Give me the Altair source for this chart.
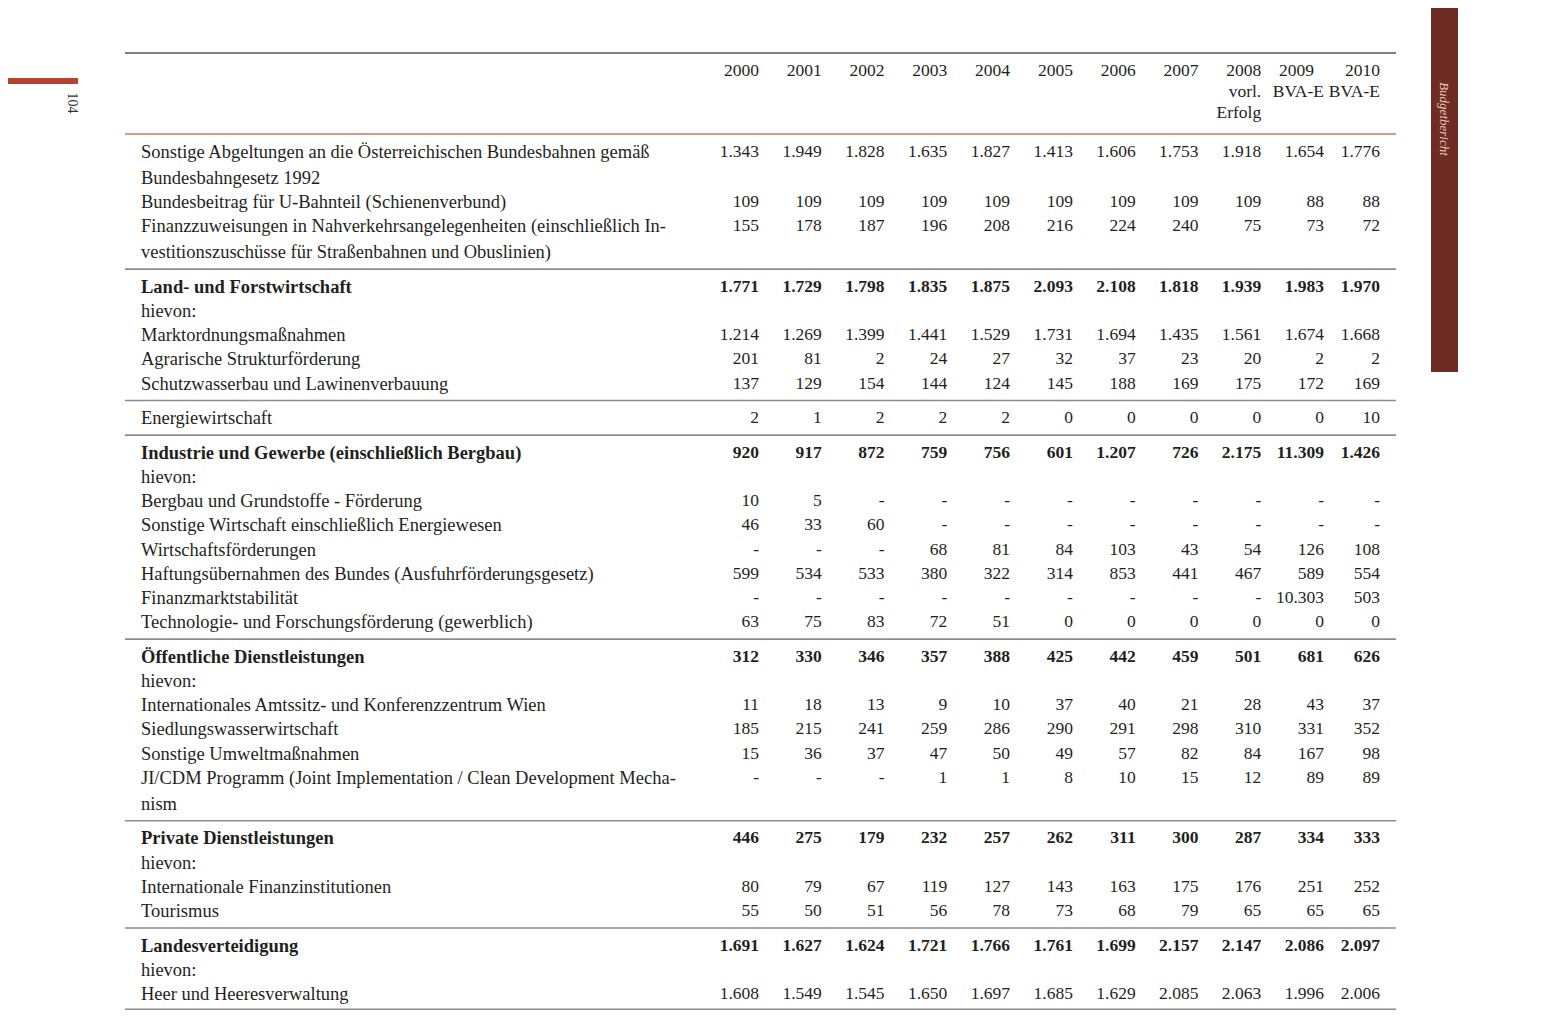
import altair as alt
import pandas as pd

# ---------------- data ----------------
years = ["2000", "2001", "2002", "2003", "2004", "2005", "2006", "2007", "2008", "2009", "2010"]
header_extra = {"2008": ["vorl.", "Erfolg"], "2009": ["BVA-E"], "2010": ["BVA-E"]}
centered_header = ["2009"]  # printed centred over "BVA-E" in the source

N = None
# each block: list of (label lines, values or None, bold)
block_bahn = [
    (["Sonstige Abgeltungen an die Österreichischen Bundesbahnen gemäß", "Bundesbahngesetz 1992"],
     [1343, 1949, 1828, 1635, 1827, 1413, 1606, 1753, 1918, 1654, 1776], False),
    (["Bundesbeitrag für U-Bahnteil (Schienenverbund)"],
     [109, 109, 109, 109, 109, 109, 109, 109, 109, 88, 88], False),
    (["Finanzzuweisungen in Nahverkehrsangelegenheiten (einschließlich In-",
      "vestitionszuschüsse für Straßenbahnen und Obuslinien)"],
     [155, 178, 187, 196, 208, 216, 224, 240, 75, 73, 72], False),
]
block_land = [
    (["Land- und Forstwirtschaft"], [1771, 1729, 1798, 1835, 1875, 2093, 2108, 1818, 1939, 1983, 1970], True),
    (["hievon:"], None, False),
    (["Marktordnungsmaßnahmen"], [1214, 1269, 1399, 1441, 1529, 1731, 1694, 1435, 1561, 1674, 1668], False),
    (["Agrarische Strukturförderung"], [201, 81, 2, 24, 27, 32, 37, 23, 20, 2, 2], False),
    (["Schutzwasserbau und Lawinenverbauung"], [137, 129, 154, 144, 124, 145, 188, 169, 175, 172, 169], False),
]
block_energie = [
    (["Energiewirtschaft"], [2, 1, 2, 2, 2, 0, 0, 0, 0, 0, 10], False),
]
block_industrie = [
    (["Industrie und Gewerbe (einschließlich Bergbau)"], [920, 917, 872, 759, 756, 601, 1207, 726, 2175, 11309, 1426], True),
    (["hievon:"], None, False),
    (["Bergbau und Grundstoffe - Förderung"], [10, 5, N, N, N, N, N, N, N, N, N], False),
    (["Sonstige Wirtschaft einschließlich Energiewesen"], [46, 33, 60, N, N, N, N, N, N, N, N], False),
    (["Wirtschaftsförderungen"], [N, N, N, 68, 81, 84, 103, 43, 54, 126, 108], False),
    (["Haftungsübernahmen des Bundes (Ausfuhrförderungsgesetz)"], [599, 534, 533, 380, 322, 314, 853, 441, 467, 589, 554], False),
    (["Finanzmarktstabilität"], [N, N, N, N, N, N, N, N, N, 10303, 503], False),
    (["Technologie- und Forschungsförderung (gewerblich)"], [63, 75, 83, 72, 51, 0, 0, 0, 0, 0, 0], False),
]
block_oeff = [
    (["Öffentliche Dienstleistungen"], [312, 330, 346, 357, 388, 425, 442, 459, 501, 681, 626], True),
    (["hievon:"], None, False),
    (["Internationales Amtssitz- und  Konferenzzentrum Wien"], [11, 18, 13, 9, 10, 37, 40, 21, 28, 43, 37], False),
    (["Siedlungswasserwirtschaft"], [185, 215, 241, 259, 286, 290, 291, 298, 310, 331, 352], False),
    (["Sonstige Umweltmaßnahmen"], [15, 36, 37, 47, 50, 49, 57, 82, 84, 167, 98], False),
    (["JI/CDM Programm (Joint Implementation / Clean Development Mecha-", "nism"],
     [N, N, N, 1, 1, 8, 10, 15, 12, 89, 89], False),
]
block_privat = [
    (["Private Dienstleistungen"], [446, 275, 179, 232, 257, 262, 311, 300, 287, 334, 333], True),
    (["hievon:"], None, False),
    (["Internationale Finanzinstitutionen"], [80, 79, 67, 119, 127, 143, 163, 175, 176, 251, 252], False),
    (["Tourismus"], [55, 50, 51, 56, 78, 73, 68, 79, 65, 65, 65], False),
]
block_landesv = [
    (["Landesverteidigung"], [1691, 1627, 1624, 1721, 1766, 1761, 1699, 2157, 2147, 2086, 2097], True),
    (["hievon:"], None, False),
    (["Heer und Heeresverwaltung"], [1608, 1549, 1545, 1650, 1697, 1685, 1629, 2085, 2063, 1996, 2006], False),
]
blocks = [block_bahn, block_land, block_energie, block_industrie, block_oeff, block_privat, block_landesv]


def fmt(v):
    if v is None:
        return "-"
    return f"{v:,}".replace(",", ".")


# ---------------- layout (in line units) ----------------
HEAD_FIRST = 0.75
HEAD_STEP = 0.87
HEAD_RULE = 3.35
FIRST_ROW = 4.08
STEP = 1.0
CONT = 1.075
GAP = 1.43
SEP = 0.70
SEP_LAST = 0.63

label_rows, value_rows, rule_rows = [], [], []
rule_rows.append({"u": 0.0, "kind": "top"})
rule_rows.append({"u": HEAD_RULE, "kind": "head"})

u = FIRST_ROW
for bi, block in enumerate(blocks):
    if bi > 0:
        u += GAP
    for ri, (lines, vals, bold) in enumerate(block):
        if ri > 0:
            u += STEP
        for li, line in enumerate(lines):
            if li > 0:
                u += CONT
            label_rows.append({"u": u, "text": line, "bold": bold})
            if li == 0 and vals is not None:
                for ci, v in enumerate(vals):
                    value_rows.append({"u": u, "col": ci, "text": fmt(v), "bold": bold})
    sep = SEP_LAST if bi == len(blocks) - 1 else SEP
    rule_rows.append({"u": u + sep, "kind": "row"})

header_rows = []
for ci, yr in enumerate(years):
    header_rows.append({"u": HEAD_FIRST, "col": ci, "text": yr, "shift": yr in centered_header})
    for k, extra in enumerate(header_extra.get(yr, [])):
        header_rows.append({"u": HEAD_FIRST + (k + 1) * HEAD_STEP, "col": ci, "text": extra, "shift": False})

labels_df = pd.DataFrame(label_rows)
values_df = pd.DataFrame(value_rows)
rules_df = pd.DataFrame(rule_rows)
header_df = pd.DataFrame(header_rows)

# ---------------- scales ----------------
W, H = 1528, 1002
xscale = alt.Scale(domain=[-1, 0, 9, 10], range=[133, 751, 1316, 1372], zero=False, nice=False)
yscale = alt.Scale(domain=[0, 40], range=[45, 45 + 40 * 24.2], zero=False, nice=False)

FONT = "Liberation Serif"
INK = "#1f1f1f"
LABEL_SIZE = 18.5
NUM_SIZE = 17.5


def X():
    return alt.X("col:Q", scale=xscale, axis=None)


def Y():
    return alt.Y("u:Q", scale=yscale, axis=None)


labels_normal = alt.Chart(labels_df).transform_filter("!datum.bold").transform_calculate(lx="-1").mark_text(
    align="left", baseline="middle", font=FONT, fontSize=LABEL_SIZE, color=INK
).encode(x=alt.X("lx:Q", scale=xscale, axis=None), y=Y(), text="text:N")

labels_bold = alt.Chart(labels_df).transform_filter("datum.bold").transform_calculate(lx="-1").mark_text(
    align="left", baseline="middle", font=FONT, fontSize=LABEL_SIZE, fontWeight="bold", color=INK
).encode(x=alt.X("lx:Q", scale=xscale, axis=None), y=Y(), text="text:N")

values_normal = alt.Chart(values_df).transform_filter("!datum.bold").mark_text(
    align="right", baseline="middle", font=FONT, fontSize=NUM_SIZE, color=INK
).encode(x=X(), y=Y(), text="text:N")

values_bold = alt.Chart(values_df).transform_filter("datum.bold").mark_text(
    align="right", baseline="middle", font=FONT, fontSize=NUM_SIZE, fontWeight="bold", color=INK
).encode(x=X(), y=Y(), text="text:N")

headers = alt.Chart(header_df).transform_filter("!datum.shift").mark_text(
    align="right", baseline="middle", font=FONT, fontSize=NUM_SIZE, color=INK
).encode(x=X(), y=Y(), text="text:N")

headers_shift = alt.Chart(header_df).transform_filter("datum.shift").mark_text(
    align="right", baseline="middle", font=FONT, fontSize=NUM_SIZE, color=INK, dx=-10
).encode(x=X(), y=Y(), text="text:N")

rules = alt.Chart(rules_df).mark_rule(strokeWidth=1.6).encode(
    x=alt.value(117), x2=alt.value(1388), y=Y(),
    color=alt.Color("kind:N", scale=alt.Scale(domain=["top", "head", "row"],
                                              range=["#555555", "#c77a66", "#8c8c8c"]), legend=None),
)

# page decorations (scanned book page)
red_bar = alt.Chart(pd.DataFrame({"a": [0]})).mark_rect(color="#b8412f").encode(
    x=alt.value(0), x2=alt.value(70), y=alt.value(70), y2=alt.value(76))
brown_bar = alt.Chart(pd.DataFrame({"a": [0]})).mark_rect(color="#6e2c24").encode(
    x=alt.value(1423), x2=alt.value(1450), y=alt.value(0), y2=alt.value(364))
side_text = alt.Chart(pd.DataFrame({"t": ["Budgetbericht"]})).mark_text(
    angle=90, align="center", baseline="middle", font=FONT, fontStyle="italic", fontSize=13, color="#e6cbbd"
).encode(x=alt.value(1436), y=alt.value(111), text="t:N")
page_no = alt.Chart(pd.DataFrame({"t": ["104"]})).mark_text(
    angle=90, align="center", baseline="middle", font=FONT, fontSize=14, color="#333333"
).encode(x=alt.value(64), y=alt.value(95), text="t:N")

chart = alt.layer(
    red_bar, brown_bar, side_text, page_no, rules, headers, headers_shift,
    labels_normal, labels_bold, values_normal, values_bold
).properties(
    width=W, height=H, padding=0, autosize=alt.AutoSizeParams(type="none"), background="white"
).configure_view(stroke=None)

chart.save("out.html", embed_options={"renderer": "svg", "actions": False})
